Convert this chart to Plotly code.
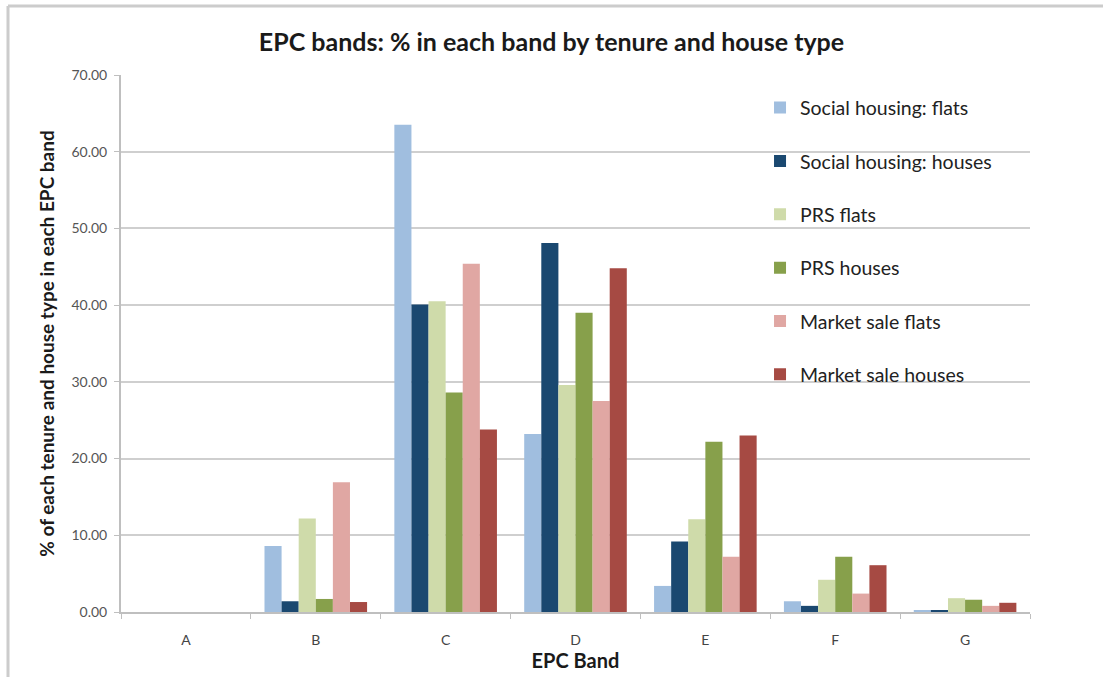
import plotly.graph_objects as go

bands = ["A", "B", "C", "D", "E", "F", "G"]

sh_flats = [0.0, 8.6, 63.5, 23.2, 3.4, 1.4, 0.15]
sh_houses = [0.0, 1.4, 40.1, 48.1, 9.2, 0.8, 0.2]
prs_flats = [0.0, 12.2, 40.5, 29.6, 12.1, 4.2, 1.8]
prs_houses = [0.0, 1.7, 28.6, 39.0, 22.2, 7.2, 1.6]
ms_flats = [0.0, 16.9, 45.4, 27.5, 7.2, 2.4, 0.8]
ms_houses = [0.0, 1.3, 23.8, 44.8, 23.0, 6.1, 1.2]

series = [
    ("Social housing: flats", sh_flats, "#a0bedf"),
    ("Social housing: houses", sh_houses, "#1a4870"),
    ("PRS flats", prs_flats, "#cfdbaa"),
    ("PRS houses", prs_houses, "#87a04b"),
    ("Market sale flats", ms_flats, "#e0a7a3"),
    ("Market sale houses", ms_houses, "#a64a43"),
]

font = "Lato, 'Open Sans', sans-serif"

fig = go.Figure()
for name, vals, col in series:
    fig.add_trace(go.Bar(
        x=bands, y=vals, name=name, legendgroup=name,
        marker=dict(color=col, line=dict(width=0)),
    ))

W, H = 1103, 677
ml, mr, mt, mb = 121, 73, 75, 65
pw = W - ml - mr
ph = H - mt - mb

fig.update_layout(
    width=W, height=H,
    barmode="group", bargap=0.21, bargroupgap=0,
    plot_bgcolor="white", paper_bgcolor="white",
    margin=dict(l=ml, r=mr, t=mt, b=mb, autoexpand=False),
    font=dict(family=font, color="#333333"),
    title=dict(
        text="<b>EPC bands: % in each band by tenure and house type</b>",
        x=0.5, xanchor="center", y=1 - 42 / H, yanchor="middle",
        font=dict(size=25, color="#1a1a1a", family=font),
    ),
    legend=dict(
        x=0.703, y=0.975, xanchor="left", yanchor="top",
        bgcolor="rgba(0,0,0,0)", font=dict(size=19.5, color="#222222"),
        traceorder="grouped", tracegroupgap=25, itemwidth=30,
    ),
    xaxis=dict(
        showgrid=False, showline=True, linecolor="#bfbfbf", linewidth=2,
        ticks="outside", tickson="boundaries", ticklen=5, tickcolor="#bfbfbf",
        ticklabelstandoff=14,
        tickfont=dict(size=14, color="#444444"),
        title=dict(text="<b>EPC Band</b>", font=dict(size=20, color="#1a1a1a"), standoff=6),
    ),
    yaxis=dict(
        range=[0, 70], dtick=10, tickformat=".2f",
        showgrid=True, gridcolor="#cfcfcf", gridwidth=2,
        showline=True, linecolor="#bfbfbf", linewidth=2,
        ticks="outside", ticklen=5, tickcolor="#bfbfbf", ticklabelstandoff=4,
        tickfont=dict(size=14, color="#555555"),
        zeroline=False,
        title=dict(text="<b>% of each tenure and house type in each EPC band</b>",
                   font=dict(size=19, color="#1a1a1a"), standoff=12),
    ),
)

# frame of the original screenshot: top and left edges
top = (H - mb - 6) / ph
left = (8 - ml) / pw
fig.layout.shapes = [
    dict(type="line", xref="paper", yref="paper", x0=left, x1=(W - ml) / pw,
         y0=top, y1=top, line=dict(color="#cccccc", width=3)),
    dict(type="line", xref="paper", yref="paper", x0=left, x1=left,
         y0=top, y1=-mb / ph, line=dict(color="#cccccc", width=3)),
]

fig.write_html("out.html", config={"displayModeBar": False},
               post_script="document.body.style.margin='0';")
